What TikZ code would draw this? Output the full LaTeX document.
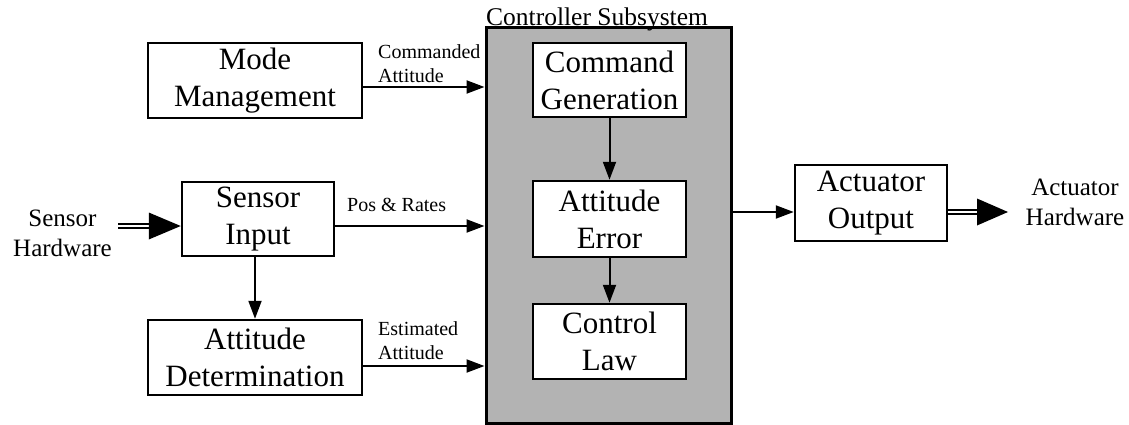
\documentclass[tikz,border=0pt]{standalone}
\usepackage{fontspec}
\setmainfont{Liberation Serif}
\usetikzlibrary{arrows.meta,calc}
\definecolor{ctrlgray}{RGB}{179,179,179}
\begin{document}
\begin{tikzpicture}[x=1pt,y=-1pt,
  blk/.style={draw=black, line width=2.5pt, fill=white, align=center, inner sep=0pt,
    font=\fontsize{31}{37}\selectfont},
  lbl/.style={inner sep=0pt, align=left, font=\fontsize{20}{24}\selectfont},
  ext/.style={inner sep=0pt, align=center, font=\fontsize{25}{30}\selectfont},
  arr/.style={line width=2pt, -{Triangle[length=18pt,width=13pt]}},
  dbl/.style={line width=2pt, double=white, double distance=2.5pt},
]
\useasboundingbox (0,0) rectangle (1129,425);
% controller subsystem
\node[draw=black, line width=3pt, fill=ctrlgray, minimum width=245pt, minimum height=395pt, inner sep=0pt]
  (ctrl) at (608.5,225.5) {};
\node[inner sep=0pt, anchor=base west, font=\fontsize{25.5}{30}\selectfont] (ctrllbl) at (486,26) {Controller Subsystem};
% blocks
\node[blk, minimum width=214pt, minimum height=75pt] (mm) at (255,80.5) {Mode\\Management};
\node[blk, minimum width=152pt, minimum height=74pt] (si) at (258,219) {Sensor\\Input};
\node[blk, minimum width=214pt, minimum height=75pt] (ad) at (255,357.5) {Attitude\\Determination};
\node[blk, minimum width=153pt, minimum height=74pt] (cg) at (609.5,80) {Command\\Generation};
\node[blk, minimum width=153pt, minimum height=76pt] (ae) at (609.5,219) {Attitude\\Error};
\node[blk, minimum width=153pt, minimum height=75pt] (cl) at (609.5,341.5) {Control\\Law};
\node[blk, minimum width=152pt, minimum height=76pt] (ao) at (871,203) {Actuator\\Output};
% external texts
\node[ext] (sh) at (62.5,233.5) {Sensor\\Hardware};
\node[ext] (ah) at (1075,202.5) {Actuator\\Hardware};
% labels
\node[lbl, anchor=north west] (lca) at (378,44) {Commanded\\Attitude};
\node[lbl, anchor=base west] (lpr) at (347,211) {Pos \& Rates};
\node[lbl, anchor=north west] (lea) at (378,321) {Estimated\\Attitude};
% connectors
\coordinate (mmo) at ($(mm.east)+(0,6.5)$);
\draw[arr] (mmo) -- (mmo -| ctrl.west);
\coordinate (sio) at ($(si.east)+(0,7)$);
\draw[arr] (sio) -- (sio -| ctrl.west);
\coordinate (ado) at ($(ad.east)+(0,8.5)$);
\draw[arr] (ado) -- (ado -| ctrl.west);
\draw[arr] (si.south -| ad.north) -- (ad.north);
\draw[arr] (cg.south) -- (ae.north);
\draw[arr] (ae.south) -- (cl.north);
\coordinate (aoi) at ($(ao.west)+(0,9)$);
\draw[arr] (aoi -| ctrl.east) -- (aoi);
% double arrows
\coordinate (sii) at ($(si.west)+(0,7)$);
\coordinate (shs) at (118,226);
\draw[dbl] (shs) -- ($(sii)+(-28,0)$);
\fill[black] (sii) -- ++(-32,-13.5) -- ++(0,27) -- cycle;
\coordinate (aoo) at ($(ao.east)+(0,9)$);
\coordinate (ahe) at (1008,212);
\draw[dbl] (aoo) -- ($(ahe)+(-28,0)$);
\fill[black] (ahe) -- ++(-31,-13.5) -- ++(0,27) -- cycle;
\end{tikzpicture}
\end{document}
